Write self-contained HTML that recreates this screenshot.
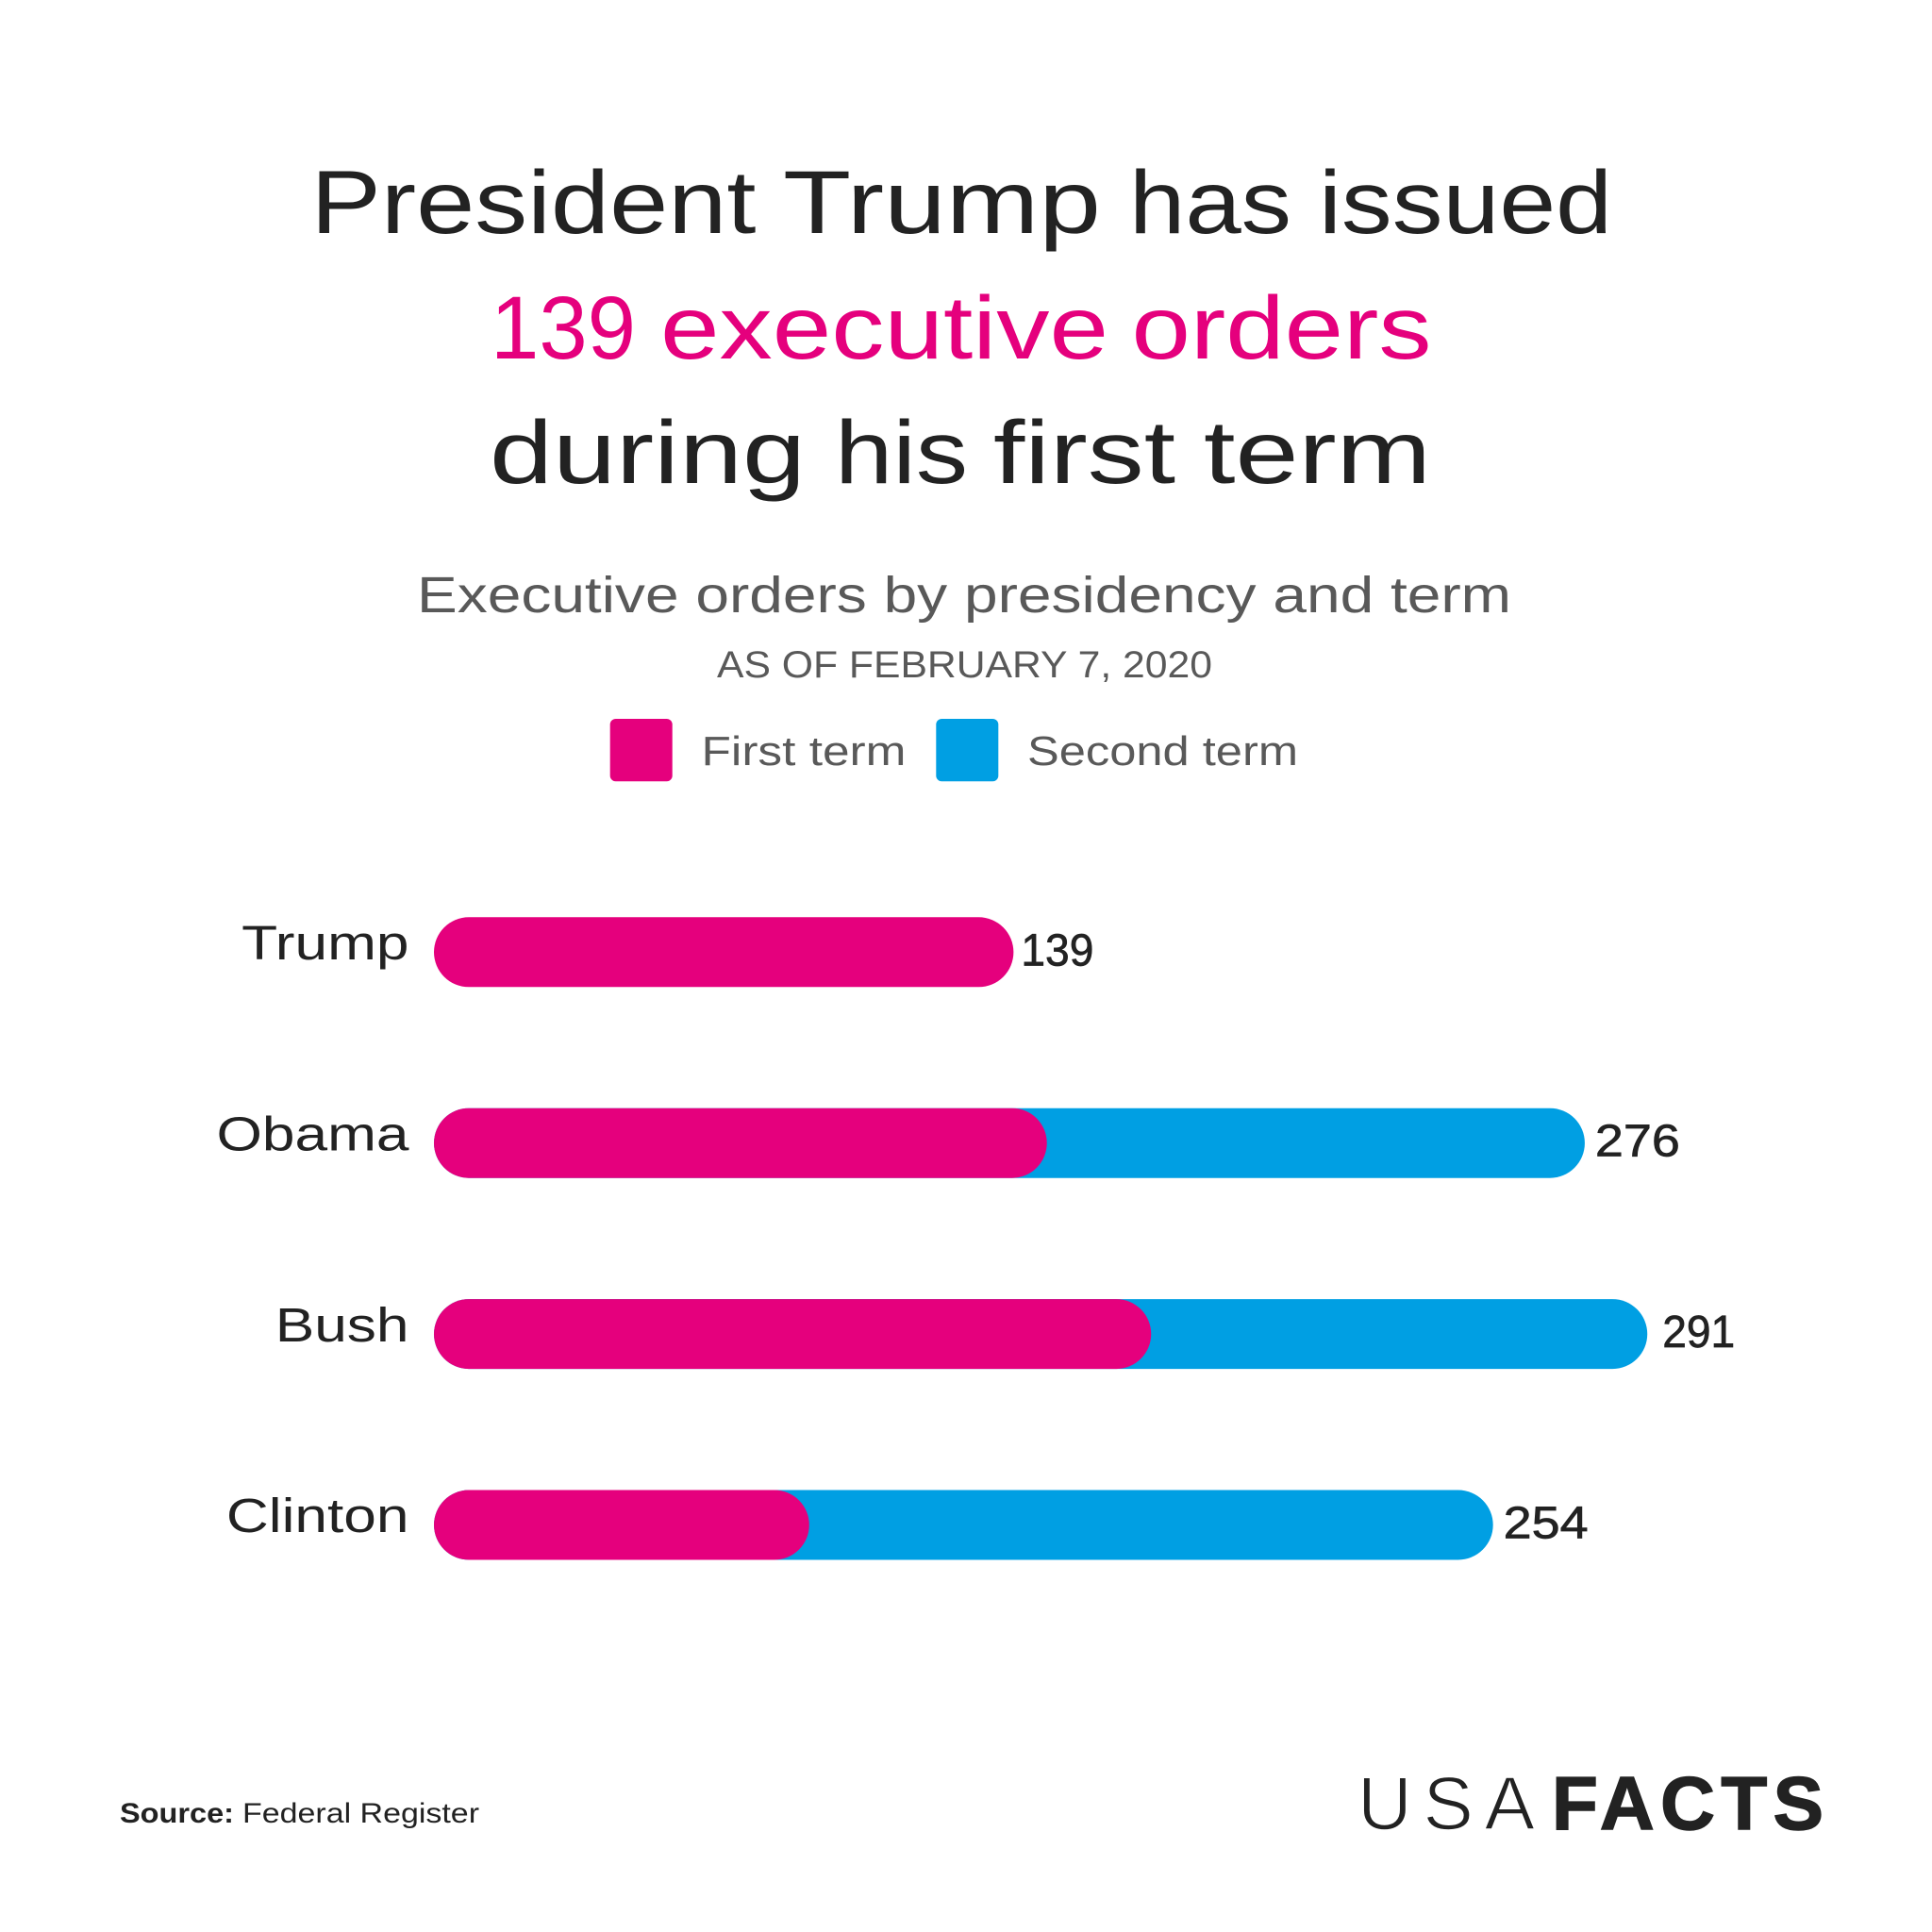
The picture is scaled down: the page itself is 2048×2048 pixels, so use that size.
<!DOCTYPE html>
<html lang="en">
<head>
<meta charset="utf-8">
<title>President Trump executive orders</title>
<style>
  html, body { margin: 0; padding: 0; background: #ffffff; }
  svg { display: block; }
  text { font-family: "Liberation Sans", sans-serif; }
</style>
</head>
<body>
<svg id="chart" xmlns="http://www.w3.org/2000/svg" width="2048" height="2048" viewBox="0 0 2048 2048">
  <rect x="0" y="0" width="2048" height="2048" fill="#ffffff"/>

  <g font-size="95" fill="#222222">
    <text y="247"><tspan x="329.4" textLength="472" lengthAdjust="spacingAndGlyphs">President</tspan> <tspan x="830" textLength="337" lengthAdjust="spacingAndGlyphs">Trump</tspan> <tspan x="1197" textLength="172" lengthAdjust="spacingAndGlyphs">has</tspan> <tspan x="1398" textLength="311" lengthAdjust="spacingAndGlyphs">issued</tspan></text>
    <text y="380" fill="#E5007D"><tspan x="520" textLength="154" lengthAdjust="spacingAndGlyphs">139</tspan> <tspan x="700" textLength="475" lengthAdjust="spacingAndGlyphs">executive</tspan> <tspan x="1199.5" textLength="318" lengthAdjust="spacingAndGlyphs">orders</tspan></text>
    <text y="512"><tspan x="519" textLength="335" lengthAdjust="spacingAndGlyphs">during</tspan> <tspan x="885" textLength="141" lengthAdjust="spacingAndGlyphs">his</tspan> <tspan x="1053" textLength="193" lengthAdjust="spacingAndGlyphs">first</tspan> <tspan x="1276" textLength="241" lengthAdjust="spacingAndGlyphs">term</tspan></text>
  </g>

  <text x="442" y="649" font-size="54" fill="#595959" textLength="1160" lengthAdjust="spacingAndGlyphs">Executive orders by presidency and term</text>
  <text x="760" y="718" font-size="40" fill="#595959" textLength="525" lengthAdjust="spacingAndGlyphs">AS OF FEBRUARY 7, 2020</text>

  <g>
    <rect x="646.7" y="762" width="66" height="66.3" rx="6" fill="#E5007D"/>
    <text x="743.5" y="811" font-size="44" fill="#595959" textLength="217" lengthAdjust="spacingAndGlyphs">First term</text>
    <rect x="992.3" y="762" width="66" height="66.3" rx="6" fill="#009FE3"/>
    <text x="1089" y="811" font-size="44" fill="#595959" textLength="287" lengthAdjust="spacingAndGlyphs">Second term</text>
  </g>

  <g id="bars"></g>

  <text x="127" y="1932" font-size="30" fill="#222222"><tspan font-weight="700" textLength="121" lengthAdjust="spacingAndGlyphs">Source:</tspan><tspan x="257" textLength="251" lengthAdjust="spacingAndGlyphs">Federal Register</tspan></text>

  <g font-size="80" fill="#222222">
    <text x="1439" y="1939" stroke="#ffffff" stroke-width="1.6" textLength="188" lengthAdjust="spacing">USA</text>
    <text x="1645" y="1939" font-weight="700" stroke="#222222" stroke-width="1.5" textLength="288" lengthAdjust="spacing">FACTS</text>
  </g>
</svg>

<script>
const categories = ["Trump", "Obama", "Bush", "Clinton"];
const firstTerm = [139, 147, 172, 90];
const secondTerm = [0, 129, 119, 164];
const totalLabels = ["139", "276", "291", "254"];

const SVG_NS = "http://www.w3.org/2000/svg";
const PINK = "#E5007D";
const BLUE = "#009FE3";
const INK = "#222222";
const X_ZERO = 460;
const X_PER_ORDER = 4.42;
const ROW_TOP = 972.3;
const ROW_STEP = 202.4;
const BAR_HEIGHT = 74;

function xScale(value) {
  return X_ZERO + value * X_PER_ORDER;
}
function yScale(index) {
  return ROW_TOP + index * ROW_STEP;
}
/* The original face has a narrow numeral one. */
function numeralWidth(label) {
  let width = 0;
  for (const ch of label) {
    width += ch === "1" ? 17 : 30;
  }
  return width;
}
function labelGap(label) {
  if (label.charAt(0) === "1") {
    return 8;
  }
  return label.indexOf("1") >= 0 ? 16 : 11;
}

const barsGroup = document.getElementById("bars");

categories.forEach(function (category, i) {
  const key = category.toLowerCase();
  const total = firstTerm[i] + secondTerm[i];
  const top = yScale(i);

  const label = document.createElementNS(SVG_NS, "text");
  
  
  label.setAttribute("transform", "translate(433.5," + (top + 44.7) + ") scale(1.22,1)");
  label.setAttribute("text-anchor", "end");
  label.setAttribute("font-size", "51");
  label.setAttribute("fill", INK);
  label.textContent = category;
  barsGroup.appendChild(label);

  if (secondTerm[i] > 0) {
    const second = document.createElementNS(SVG_NS, "rect");
    
    
    second.setAttribute("x", xScale(0));
    second.setAttribute("y", top);
    second.setAttribute("width", xScale(total) - xScale(0));
    second.setAttribute("height", BAR_HEIGHT);
    second.setAttribute("rx", BAR_HEIGHT / 2);
    second.setAttribute("fill", BLUE);
    barsGroup.appendChild(second);
  }

  const first = document.createElementNS(SVG_NS, "rect");
  
  
  first.setAttribute("x", xScale(0));
  first.setAttribute("y", top);
  first.setAttribute("width", xScale(firstTerm[i]) - xScale(0));
  first.setAttribute("height", BAR_HEIGHT);
  first.setAttribute("rx", BAR_HEIGHT / 2);
  first.setAttribute("fill", PINK);
  barsGroup.appendChild(first);

  const value = document.createElementNS(SVG_NS, "text");
  
  
  value.setAttribute("x", xScale(total) + labelGap(totalLabels[i]));
  value.setAttribute("y", top + 51);
  value.setAttribute("font-size", "48");
  value.setAttribute("fill", INK);
  value.setAttribute("stroke", INK);
  value.setAttribute("stroke-width", "0.7");
  value.setAttribute("textLength", numeralWidth(totalLabels[i]));
  value.setAttribute("lengthAdjust", "spacingAndGlyphs");
  value.textContent = totalLabels[i];
  barsGroup.appendChild(value);
});
</script>
</body>
</html>
